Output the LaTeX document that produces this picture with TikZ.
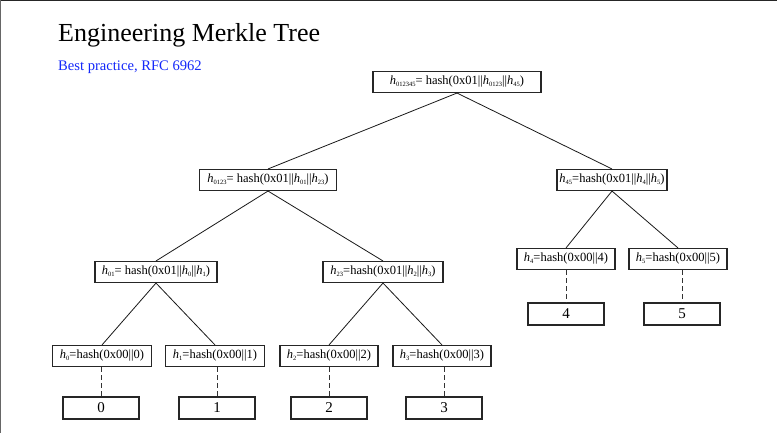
\documentclass[tikz,border=0pt]{standalone}
\usepackage{fontspec}
\setmainfont{Liberation Serif}
\newcommand{\hh}[1]{\textit{h}\raisebox{-0.35ex}{\fontsize{6.5}{7}\selectfont #1}}
\begin{document}
\begin{tikzpicture}[x=1pt,y=-1pt,
  hbox/.style={draw=black!85,line width=1.1pt,minimum height=21pt,inner sep=0pt,font=\fontsize{12.5}{13}\selectfont},
  vbox/.style={draw=black!85,line width=1.1pt,minimum height=22pt,minimum width=76pt,inner sep=0pt,font=\fontsize{15}{16}\selectfont},
  tree/.style={line width=0.8pt,black!90},
  leaf/.style={line width=0.8pt,black!80,dash pattern=on 5pt off 3pt}]
\useasboundingbox (0,0) rectangle (777,433);
\fill[white] (0,0) rectangle (777,433);
\draw[black!85,line width=1.5pt] (0,0.75) -- (777,0.75);
\draw[black!60,line width=1pt] (0.5,0) -- (0.5,433);

\node[anchor=base west,inner sep=0pt,font=\fontsize{26}{28}\selectfont] (title) at (58,42) {Engineering Merkle Tree};
\node[anchor=base west,inner sep=0pt,font=\fontsize{14.6}{16}\selectfont,text={rgb,255:red,20;green,40;blue,250}] (sub) at (58,71) {Best practice, RFC 6962};

\node[hbox,minimum width=168pt] (r) at (457,82) {\hh{012345}= hash(0x01||\hh{0123}||\hh{45})};
\node[hbox,minimum width=137pt] (a) at (268,180) {\hh{0123}= hash(0x01||\hh{01}||\hh{23})};
\node[hbox,minimum width=110pt] (b) at (612,180) {\hh{45}=hash(0x01||\hh{4}||\hh{5})};
\node[hbox,minimum width=122pt] (c) at (156,272) {\hh{01}= hash(0x01||\hh{0}||\hh{1})};
\node[hbox,minimum width=120pt] (d) at (383,272) {\hh{23}=hash(0x01||\hh{2}||\hh{3})};
\node[hbox,minimum width=98pt] (h4) at (566,259) {\hh{4}=hash(0x00||4)};
\node[hbox,minimum width=98pt] (h5) at (678,259) {\hh{5}=hash(0x00||5)};
\node[hbox,minimum width=99pt] (h0) at (102,356) {\hh{0}=hash(0x00||0)};
\node[hbox,minimum width=99pt] (h1) at (215,356) {\hh{1}=hash(0x00||1)};
\node[hbox,minimum width=98pt] (h2) at (329,356) {\hh{2}=hash(0x00||2)};
\node[hbox,minimum width=98pt] (h3) at (442,356) {\hh{3}=hash(0x00||3)};

\node[vbox] (v0) at (101,408) {0};
\node[vbox] (v1) at (217,408) {1};
\node[vbox] (v2) at (329,408) {2};
\node[vbox] (v3) at (444,408) {3};
\node[vbox] (v4) at (566,314) {4};
\node[vbox] (v5) at (682,314) {5};

\draw[tree] (r.south) -- (a.north);
\draw[tree] (r.south) -- (b.north);
\draw[tree] (a.south) -- (c.north);
\draw[tree] (a.south) -- (d.north);
\draw[tree] (b.south) -- (h4.north);
\draw[tree] (b.south) -- (h5.north);
\draw[tree] (c.south) -- (h0.north);
\draw[tree] (c.south) -- (h1.north);
\draw[tree] (d.south) -- (h2.north);
\draw[tree] (d.south) -- (h3.north);

\foreach \h/\v in {h0/v0,h1/v1,h2/v2,h3/v3,h4/v4,h5/v5}
  \draw[leaf] (\v.north |- \h.south) -- (\v.north);
\end{tikzpicture}
\end{document}
